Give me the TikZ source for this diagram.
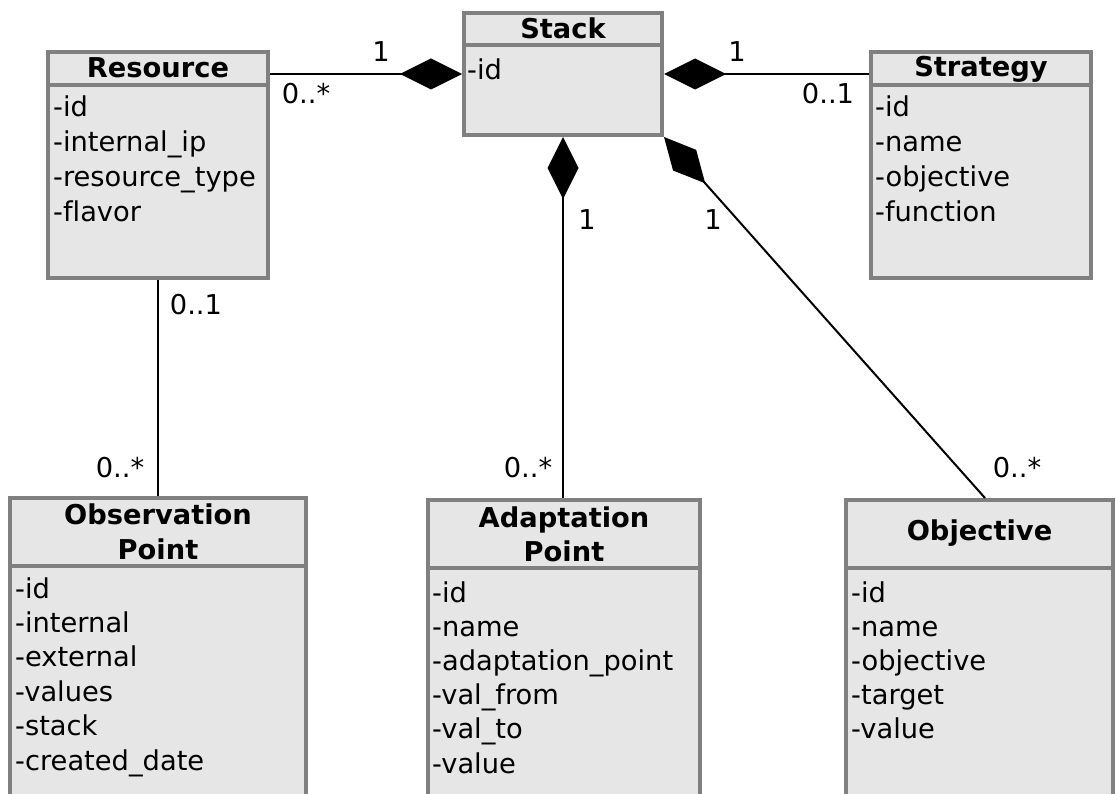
\documentclass[tikz,border=0pt]{standalone}
\usepackage{fontspec}
\setmainfont{DejaVu Sans}[Ligatures=NoCommon]
\usetikzlibrary{arrows.meta}
\definecolor{boxfill}{HTML}{E6E6E6}
\definecolor{boxline}{HTML}{808080}
\begin{document}
\begin{tikzpicture}[x=1pt,y=-1pt,
  every node/.style={font=\fontsize{27.3}{33}\selectfont},
  classbox/.style={rectangle, draw=boxline, fill=boxfill, line width=4pt, inner sep=0pt},
  sepline/.style={draw=boxline, line width=4pt},
  title/.style={anchor=base, inner sep=0pt, font=\fontsize{27.3}{33}\selectfont\bfseries},
  attr/.style={anchor=base west, inner sep=0pt},
  mult/.style={anchor=base, inner sep=0pt},
  conn/.style={draw=black, line width=2pt},
  comp/.style={conn, {Diamond[length=62pt,width=31pt]}-}
]
\useasboundingbox (0,0) rectangle (1116,794);
\clip (0,0) rectangle (1116,794);

% ---- class boxes ----
\node[classbox, minimum width=220pt, minimum height=226pt] (res)   at (158,165) {};
\node[classbox, minimum width=198pt, minimum height=122pt] (stack) at (563,74) {};
\node[classbox, minimum width=220pt, minimum height=226pt] (strat) at (981,165) {};
\node[classbox, minimum width=296pt, minimum height=312pt] (obs)   at (158,654) {};
\node[classbox, minimum width=272pt, minimum height=310pt] (adapt) at (564,655) {};
\node[classbox, minimum width=267pt, minimum height=310pt] (obj)   at (979.5,655) {};

% ---- header separators ----
\draw[sepline] (res.west |- 0,85)   -- (res.east |- 0,85);
\draw[sepline] (stack.west |- 0,45) -- (stack.east |- 0,45);
\draw[sepline] (strat.west |- 0,85) -- (strat.east |- 0,85);
\draw[sepline] (obs.west |- 0,566)  -- (obs.east |- 0,566);
\draw[sepline] (adapt.west |- 0,568) -- (adapt.east |- 0,568);
\draw[sepline] (obj.west |- 0,568)  -- (obj.east |- 0,568);

% ---- class names ----
\node[title] (res-t)    at (158,78)  {Resource};
\node[title] (stack-t)  at (563,39)  {Stack};
\node[title] (strat-t)  at (981,77)  {Strategy};
\node[title] (obs-t1)   at (158,524) {Observation};
\node[title] (obs-t2)   at (158,559) {Point};
\node[title] (adapt-t1) at (564,527) {Adaptation};
\node[title] (adapt-t2) at (564,561) {Point};
\node[title] (obj-t)    at (979.5,540) {Objective};

% ---- attributes ----
\foreach \t [count=\i from 0] in {-id,-internal\_ip,-resource\_type,-flavor}
  \node[attr] (res-a\i) at (53,117+35*\i) {\t};
\node[attr] (stack-a0) at (467,80) {-id};
\foreach \t [count=\i from 0] in {-id,-name,-objective,-function}
  \node[attr] (strat-a\i) at (875,117+35*\i) {\t};
\foreach \t [count=\i from 0] in {-id,-internal,-external,-values,-stack,-created\_date}
  \node[attr] (obs-a\i) at (15,598+34.4*\i) {\t};
\foreach \t [count=\i from 0] in {-id,-name,-adaptation\_point,-val\_from,-val\_to,-value}
  \node[attr] (adapt-a\i) at (432,602+34.2*\i) {\t};
\foreach \t [count=\i from 0] in {-id,-name,-objective,-target,-value}
  \node[attr] (obj-a\i) at (851,602+34*\i) {\t};

% ---- associations ----
\draw[comp] (stack.west) -- (res.east |- stack.west);
\draw[comp] (stack.east) -- (strat.west |- stack.east);
\draw[comp] (stack.south) -- (stack.south |- adapt.north);
\draw[comp] (stack.south east) -- ([xshift=5.5pt]obj.north);
\draw[conn] (res.south) -- (res.south |- obs.north);

% ---- multiplicities ----
\node[mult] (m1) at (381,62)  {1};
\node[mult] (m2) at (306,104) {0..*};
\node[mult] (m3) at (737,62)  {1};
\node[mult] (m4) at (828,104) {0..1};
\node[mult] (m5) at (196,314) {0..1};
\node[mult] (m6) at (120,477) {0..*};
\node[mult] (m7) at (587,230) {1};
\node[mult] (m8) at (528,477) {0..*};
\node[mult] (m9) at (713,230) {1};
\node[mult] (m10) at (1017,477) {0..*};
\end{tikzpicture}
\end{document}
